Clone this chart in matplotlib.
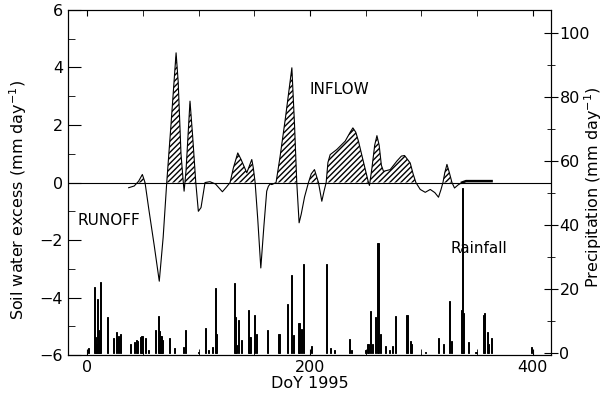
import matplotlib
matplotlib.use("Agg")
import matplotlib.pyplot as plt
from matplotlib.ticker import MultipleLocator
import numpy as np

# soil water excess (mm/day)
doy = [37, 42, 46, 49.3, 51.7, 55, 60, 64.5, 68, 71.2, 75, 79.6, 81.5, 84, 86.1, 86.8,
       88.5, 92.1, 94.5, 97.3, 99.6, 102, 105.6, 110, 115, 121.2, 125, 128.1, 131, 135,
       138, 143.1, 147.6, 149, 150.6, 153, 155.7, 158.5, 161, 162.5, 164, 165.6, 169.4,
       173, 178, 183.6, 186, 188, 190.1, 192, 195, 198.5, 201, 203.9, 205.5, 207.5,
       210.5, 212.5, 214.4, 216, 218, 224, 231.5, 236, 238.4, 241, 243.4, 248, 252.4,
       253.3, 255.5, 258, 260, 262, 264, 265.9, 271.9, 278, 282, 284.8, 289.9, 292.5,
       295, 298.9, 303.4, 307.9, 312, 315.3, 317.5, 319.3, 321, 322.9, 325, 327.4,
       329.7, 333, 336.4]
excess = [-0.18, -0.12, 0.05, 0.28, 0.0, -0.9, -2.2, -3.43, -1.9, 0.0, 2.0, 4.51, 3.5,
          1.0, 0.0, -0.3, 0.4, 2.83, 1.6, 0.0, -1.0, -0.87, 0.0, 0.03, -0.05, -0.32,
          -0.15, 0.0, 0.5, 1.03, 0.8, 0.34, 0.8, 0.5, 0.0, -1.3, -2.97, -1.5, -0.3,
          -0.13, -0.05, -0.07, 0.0, 0.9, 2.3, 3.99, 2.0, 0.0, -1.4, -1.1, -0.5, 0.0,
          0.3, 0.45, 0.25, 0.0, -0.65, -0.3, 0.0, 0.7, 0.97, 1.15, 1.44, 1.75, 1.9,
          1.75, 1.44, 0.7, 0.0, -0.1, 0.5, 1.3, 1.63, 1.3, 0.6, 0.39, 0.45, 0.75, 0.92,
          0.94, 0.68, 0.3, 0.0, -0.24, -0.34, -0.24, -0.35, -0.51, -0.25, 0.0, 0.35,
          0.63, 0.35, 0.0, -0.19, -0.08, 0.0]
tail_doy = [336.4, 340, 363]
tail_excess = [0.0, 0.05, 0.05]

# daily rainfall (mm/day)
rain_doy = [1, 6, 7, 8, 9, 10, 11, 12, 18, 23, 26, 28, 30, 39, 42, 44, 45, 48, 49, 52,
            55, 61, 64, 65, 66, 67, 74, 78, 86, 88, 100, 106, 109, 112, 115, 116, 132,
            133, 134, 136, 138, 145, 146, 150, 152, 162, 172, 180, 183, 185, 190, 192,
            194, 201, 215, 218, 222, 235, 237, 250, 252, 254, 256, 259, 261, 263, 268,
            271, 274, 277, 287, 290, 291, 304, 315, 320, 325, 327, 336, 337, 338, 342,
            349, 356, 357, 359, 360, 363, 399]
rain = [1.5, 20.7, 5, 3, 17.0, 7.2, 4, 22.2, 11.4, 4.8, 6.6, 5.3, 6.1, 3, 3.5, 4, 3.8,
        5.1, 5.3, 4.9, 1, 7.2, 11.5, 7, 5.4, 4, 4.6, 1.5, 1.8, 7.3, 0.5, 8, 1.1, 1.9,
        20.3, 6, 22, 11.4, 2.7, 10.3, 4, 13.4, 5, 11.9, 6, 7.3, 6.1, 15.5, 24.5, 5.6,
        9.3, 7.7, 27.9, 2.3, 28, 1.5, 1, 4.3, 1, 1, 3, 13.1, 3, 11.4, 34.3, 6, 2.3, 1,
        2.3, 11.6, 11.9, 3.8, 3, 0.3, 4.9, 3, 16.3, 3.8, 13.4, 51.6, 12.4, 3.5, 0.5,
        11.9, 12.4, 6.7, 3, 4.9, 2]

plt.rcParams['font.family'] = ['DejaVu Sans']
fig = plt.figure(figsize=(6.07, 3.99), dpi=100)
ax = fig.add_axes([0.112, 0.110, 0.796, 0.865])
ax2 = ax.twinx()

ax2.bar(rain_doy, rain, width=1.0, color='black', edgecolor='black', linewidth=0.7)
ax2.set_ylim(-0.6, 107.2)
ax2.yaxis.set_major_locator(MultipleLocator(20))
ax2.yaxis.set_minor_locator(MultipleLocator(10))
ax2.tick_params(axis='y', which='major', direction='inout', length=10, labelsize=11.5,
                pad=1)
ax2.tick_params(axis='y', which='minor', direction='inout', length=6)
fig.text(0.977, 0.53, "Precipitation (mm day$^{-1}$)", rotation=90, fontsize=11.5,
         ha='center', va='center')

ax.set_zorder(ax2.get_zorder() + 1)
ax.patch.set_visible(False)

x = np.array(doy)
y = np.array(excess)
ax.fill_between(x, y, 0, where=y > 0, interpolate=True, facecolor='none',
                edgecolor='black', hatch='//////', linewidth=0)
ax.plot(doy, excess, color='black', lw=0.8)
ax.plot(tail_doy, tail_excess, color='black', lw=1.8)
ax.axhline(0, color='black', lw=0.8)

ax.set_xlim(-17.5, 416.5)
ax.set_ylim(-6, 6)
ax.xaxis.set_major_locator(MultipleLocator(200))
ax.xaxis.set_minor_locator(MultipleLocator(50))
ax.yaxis.set_major_locator(MultipleLocator(2))
ax.yaxis.set_minor_locator(MultipleLocator(1))
ax.tick_params(axis='both', which='major', direction='in', length=9, labelsize=11.5,
               top=True)
ax.tick_params(axis='both', which='minor', direction='in', length=5, top=True)
ax.tick_params(axis='x', which='both', length=4)
ax.set_xlabel("DoY 1995", fontsize=11.5, labelpad=1)
fig.text(0.03, 0.50, "Soil water excess (mm day$^{-1}$)", rotation=90, fontsize=11.5,
         ha='center', va='center')

ax.text(0.02, 0.39, "RUNOFF", transform=ax.transAxes, fontsize=11, va='center')
ax.text(0.85, 0.31, "Rainfall", transform=ax.transAxes, fontsize=11, va='center',
        ha='center')
ax.text(0.50, 0.77, "INFLOW", transform=ax.transAxes, fontsize=11, va='center')

fig.savefig("out.png", dpi=100)
